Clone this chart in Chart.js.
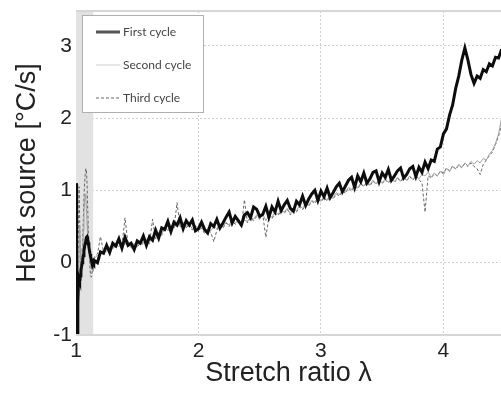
<!DOCTYPE html>
<html><head><meta charset="utf-8">
<script src="https://cdn.jsdelivr.net/npm/chart.js@4.4.0/dist/chart.umd.min.js"></script>
<style>html,body{margin:0;padding:0;background:#fff;}canvas{display:block;}</style>
</head><body>
<canvas id="c" width="501" height="394"></canvas>
<script>
// ---- data ----
const seriesLabels = ['First cycle', 'Second cycle', 'Third cycle'];
const xTicks = [1, 2, 3, 4];
const yTicks = [-1, 0, 1, 2, 3];
const shadedBand = [1.0, 1.14];

const lambdaStart = [1.000,1.005,1.010,1.015,1.020,1.025,1.030,1.035,1.040,1.045,
  1.050,1.055,1.060,1.065,1.070,1.075,1.080,1.085,1.090,1.095,
  1.100,1.105,1.110,1.115,1.120,1.125,1.130,1.135,1.140,1.145];
const lambdaMain = [1.150,1.175,1.200,1.225,1.250,1.275,1.300,1.325,1.350,1.375,
  1.400,1.425,1.450,1.475,1.500,1.525,1.550,1.575,1.600,1.625,
  1.650,1.675,1.700,1.725,1.750,1.775,1.800,1.825,1.850,1.875,
  1.900,1.925,1.950,1.975,2.000,2.025,2.050,2.075,2.100,2.125,
  2.150,2.175,2.200,2.225,2.250,2.275,2.300,2.325,2.350,2.375,
  2.400,2.425,2.450,2.475,2.500,2.525,2.550,2.575,2.600,2.625,
  2.650,2.675,2.700,2.725,2.750,2.775,2.800,2.825,2.850,2.875,
  2.900,2.925,2.950,2.975,3.000,3.025,3.050,3.075,3.100,3.125,
  3.150,3.175,3.200,3.225,3.250,3.275,3.300,3.325,3.350,3.375,
  3.400,3.425,3.450,3.475,3.500,3.525,3.550,3.575,3.600,3.625,
  3.650,3.675,3.700,3.725,3.750,3.775,3.800,3.825,3.850,3.875,
  3.900,3.925,3.950,3.975,4.000,4.025,4.050,4.075,4.100,4.125,
  4.150,4.175,4.200,4.225,4.250,4.275,4.300,4.325,4.350,4.375,
  4.400,4.425,4.450,4.475];

const firstStart = [1.10,0.20,-0.97,-0.55,-0.30,-0.22,-0.25,-0.18,-0.10,-0.06,
  0.00,0.05,0.10,0.16,0.22,0.27,0.31,0.35,0.36,0.33,
  0.28,0.22,0.17,0.12,0.08,0.05,0.02,0.00,-0.02,-0.03];
const firstMain = [0.03,0.00,0.15,0.13,0.24,0.14,0.27,0.23,0.33,0.20,
  0.35,0.24,0.27,0.18,0.30,0.27,0.37,0.24,0.36,0.31,
  0.45,0.34,0.48,0.46,0.57,0.43,0.56,0.52,0.62,0.47,
  0.58,0.52,0.59,0.44,0.47,0.56,0.46,0.41,0.54,0.50,
  0.60,0.48,0.55,0.63,0.70,0.55,0.64,0.58,0.52,0.66,
  0.69,0.62,0.77,0.74,0.64,0.67,0.78,0.63,0.77,0.70,
  0.85,0.72,0.80,0.86,0.75,0.71,0.85,0.80,0.92,0.79,
  0.88,0.95,1.00,0.86,0.99,0.91,1.03,0.90,0.97,1.05,
  1.10,0.98,1.06,1.14,1.18,1.04,1.20,1.12,1.24,1.10,
  1.16,1.25,1.27,1.12,1.24,1.18,1.29,1.14,1.20,1.27,
  1.31,1.17,1.22,1.30,1.33,1.19,1.32,1.25,1.39,1.30,
  1.42,1.40,1.57,1.60,1.78,1.85,2.04,2.18,2.41,2.58,
  2.80,2.97,2.80,2.60,2.48,2.58,2.55,2.67,2.64,2.75,
  2.72,2.84,2.83,2.95];

const secondStart = [0.90,-0.20,-0.90,-0.70,-0.30,0.20,0.50,0.20,-0.10,-0.15,
  0.00,0.20,0.45,0.70,0.85,0.95,0.90,0.75,0.55,0.40,
  0.30,0.20,0.10,0.02,-0.05,-0.08,-0.05,0.00,0.03,0.05];
const secondMain = [0.06,0.10,0.13,0.18,0.15,0.22,0.19,0.26,0.22,0.28,
  0.25,0.30,0.20,0.24,0.22,0.30,0.27,0.33,0.28,0.36,
  0.35,0.42,0.40,0.48,0.45,0.52,0.48,0.55,0.50,0.56,
  0.50,0.55,0.46,0.52,0.45,0.50,0.42,0.47,0.44,0.50,
  0.47,0.54,0.50,0.56,0.52,0.60,0.55,0.58,0.52,0.59,
  0.57,0.63,0.60,0.66,0.62,0.67,0.58,0.66,0.63,0.70,
  0.67,0.74,0.70,0.75,0.68,0.74,0.72,0.79,0.75,0.82,
  0.80,0.86,0.84,0.90,0.86,0.91,0.87,0.93,0.90,0.97,
  0.94,1.00,0.98,1.04,1.01,1.08,1.04,1.10,1.06,1.12,
  1.08,1.14,1.09,1.15,1.10,1.16,1.11,1.17,1.12,1.18,
  1.13,1.19,1.14,1.20,1.15,1.21,1.16,1.22,1.20,1.25,
  1.18,1.24,1.20,1.26,1.22,1.30,1.26,1.33,1.30,1.36,
  1.32,1.38,1.34,1.40,1.36,1.41,1.38,1.44,1.42,1.50,
  1.55,1.65,1.78,2.00];

const thirdStart = [0.00,-0.50,-0.80,-0.30,0.50,1.05,0.60,0.00,-0.25,-0.20,
  0.00,0.30,0.60,0.90,1.10,1.22,1.30,1.28,1.10,0.80,
  0.50,0.25,0.05,-0.10,-0.18,-0.20,-0.15,-0.08,-0.02,0.03];
const thirdMain = [0.08,0.12,0.36,0.15,0.20,0.16,0.24,0.20,0.27,0.23,
  0.62,0.25,0.22,0.27,0.21,0.28,0.25,0.30,0.26,0.60,
  0.33,0.40,0.38,0.45,0.44,0.50,0.47,0.83,0.49,0.54,
  0.48,0.53,0.45,0.50,0.43,0.48,0.40,0.46,0.42,0.29,
  0.45,0.52,0.48,0.55,0.50,0.58,0.53,0.57,0.50,0.87,
  0.55,0.62,0.58,0.64,0.60,0.66,0.35,0.64,0.61,0.68,
  0.65,0.72,0.68,0.74,0.66,0.72,0.70,0.77,0.73,0.80,
  0.78,0.85,0.82,0.88,0.84,0.90,0.85,0.92,0.88,0.95,
  0.92,0.99,0.96,1.03,0.99,1.06,1.02,1.09,1.05,1.11,
  1.06,1.13,1.08,1.14,1.09,1.15,1.10,1.16,1.11,1.17,
  1.12,1.18,1.13,1.19,1.14,1.20,1.15,1.10,0.70,1.20,
  1.17,1.23,1.20,1.27,1.24,1.31,1.27,1.34,1.29,1.35,
  1.31,1.37,1.33,1.38,1.33,1.30,1.22,1.36,1.42,1.48,
  1.53,1.63,1.75,1.92];

// ---- build ----
const lambdaAll = lambdaStart.concat(lambdaMain);
const toPts = (ys) => lambdaAll.map((x, i) => ({x: x, y: ys[i]}));
const styles = [
  {color: '#0d0d0d', width: 3, dash: []},
  {color: '#a0a0a0', width: 1, dash: []},
  {color: '#666666', width: 1, dash: [3, 2]}
];
const legendStyles = [
  {color: '#555555', width: 3, dash: []},
  {color: '#cccccc', width: 1, dash: []},
  {color: '#666666', width: 1, dash: [3, 2]}
];
const allSeries = [firstStart.concat(firstMain), secondStart.concat(secondMain), thirdStart.concat(thirdMain)];

const datasets = allSeries.map((ys, i) => ({
  label: seriesLabels[i],
  data: toPts(ys),
  borderColor: styles[i].color,
  borderWidth: styles[i].width,
  borderDash: styles[i].dash,
  borderJoinStyle: 'miter',
  pointRadius: 0,
  tension: 0,
  fill: false
}));

const decor = {
  id: 'decor',
  beforeDatasetsDraw(chart) {
    const {ctx, chartArea: a, scales: {x, y}} = chart;
    ctx.save();
    ctx.fillStyle = '#e2e2e2';
    const x0 = x.getPixelForValue(shadedBand[0]);
    const x1 = x.getPixelForValue(shadedBand[1]);
    ctx.fillRect(x0, a.top, x1 - x0, a.bottom - a.top);
    ctx.restore();
  },
  afterDatasetsDraw(chart) {
    const {ctx, chartArea: a} = chart;
    ctx.save();
    ctx.strokeStyle = '#d6d6d6';
    ctx.lineWidth = 2;
    ctx.beginPath();
    ctx.moveTo(a.left, a.top); ctx.lineTo(a.right, a.top);
    ctx.moveTo(a.left, a.bottom); ctx.lineTo(a.right, a.bottom);
    ctx.stroke();
    // legend
    const bx = a.left + 6, by = a.top + 4, bw = 121, bh = 97;
    ctx.fillStyle = '#ffffff';
    ctx.fillRect(bx, by, bw, bh);
    ctx.strokeStyle = '#b0b0b0';
    ctx.lineWidth = 1;
    ctx.strokeRect(bx + 0.5, by + 0.5, bw, bh);
    ctx.font = '12px Lato';
    ctx.textBaseline = 'middle';
    ctx.textAlign = 'left';
    seriesLabels.forEach((lab, i) => {
      const ry = by + 17 + i * 33;
      const s = legendStyles[i];
      ctx.beginPath();
      ctx.setLineDash(s.dash);
      ctx.strokeStyle = s.color;
      ctx.lineWidth = s.width;
      ctx.moveTo(bx + 14, ry); ctx.lineTo(bx + 38, ry);
      ctx.stroke();
      ctx.setLineDash([]);
      ctx.fillStyle = '#444';
      ctx.fillText(lab, bx + 41, ry);
    });
    ctx.restore();
  }
};

new Chart(document.getElementById('c'), {
  type: 'line',
  data: {datasets},
  options: {
    responsive: false,
    animation: false,
    devicePixelRatio: 1,
    layout: {padding: {top: 11, right: 0, bottom: 0, left: 0}},
    plugins: {legend: {display: false}, tooltip: {enabled: false}},
    scales: {
      x: {
        type: 'linear', min: 1, max: 4.47,
        afterBuildTicks: s => { s.ticks = xTicks.map(v => ({value: v})); },
        afterFit: s => { s.height = 59; s.paddingLeft = 0; s.paddingRight = 0; },
        grid: {color: '#cfcfcf', drawTicks: false, lineWidth: 1},
        border: {display: false, dash: [2, 2]},
        ticks: {padding: 4, color: '#222', font: {family: 'Liberation Sans', size: 21}, maxRotation: 0},
        title: {display: true, text: 'Stretch ratio λ', color: '#222', font: {family: 'Liberation Sans', size: 27}, padding: {top: 0, bottom: 4}}
      },
      y: {
        type: 'linear', min: -1, max: 3.48,
        afterBuildTicks: s => { s.ticks = yTicks.map(v => ({value: v})); },
        afterFit: s => { s.width = 76; s.paddingTop = 0; s.paddingBottom = 0; },
        grid: {color: '#cfcfcf', drawTicks: false, lineWidth: 1},
        border: {display: false, dash: [2, 2]},
        ticks: {padding: 4, color: '#222', font: {family: 'Liberation Sans', size: 21}},
        title: {display: true, text: 'Heat source [°C/s]', color: '#222', font: {family: 'Liberation Sans', size: 27}, padding: {top: 11, bottom: 0}}
      }
    }
  },
  plugins: [decor]
});
</script>
</body></html>
